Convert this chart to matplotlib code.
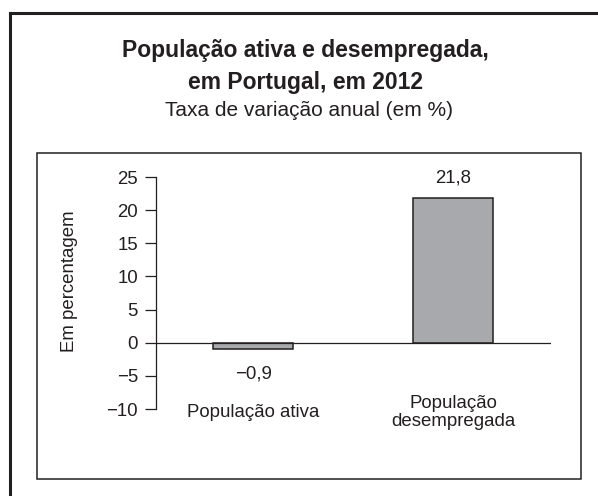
import matplotlib
matplotlib.use("Agg")
import matplotlib.pyplot as plt
from matplotlib.lines import Line2D
from matplotlib.patches import Rectangle

plt.rcParams['font.family'] = ['Liberation Sans', 'DejaVu Sans']

categories = ["População ativa", "População\ndesempregada"]
values = [-0.9, 21.8]
value_labels = ["−0,9", "21,8"]
yticks = [-10, -5, 0, 5, 10, 15, 20, 25]
ytick_labels = ["−10", "−5", "0", "5", "10", "15", "20", "25"]

dark = "#231f20"
bar_gray = "#a7a9ac"

fig = plt.figure(figsize=(5.98, 4.96), dpi=100)

# cadre exterior (só topo e esquerda visíveis)
fig.add_artist(Line2D([10/598, 10/598], [0, 1 - 13/496], color=dark, lw=2.2))
fig.add_artist(Line2D([10/598, 1], [1 - 13/496, 1 - 13/496], color=dark, lw=2.2))

# caixa interior
fig.add_artist(Rectangle((37/598, 1 - 479/496), (581 - 37)/598, (479 - 153)/496,
                         fill=False, edgecolor=dark, lw=1.1))

fig.text(0.511, 1 - 50/496, "População ativa e desempregada,", ha='center', va='center',
         fontsize=16.5, fontweight='bold', color=dark)
fig.text(0.511, 1 - 82/496, "em Portugal, em 2012", ha='center', va='center',
         fontsize=16.5, fontweight='bold', color=dark)
fig.text(0.516, 1 - 110/496, "Taxa de variação anual (em %)", ha='center', va='center',
         fontsize=15, color=dark)

ax = fig.add_axes([156/598, 1 - 409/496, (551 - 156)/598, (409 - 177)/496])
x = range(len(categories))
ax.bar(x, values, width=0.4, color=bar_gray, edgecolor=dark, linewidth=1.1, zorder=2)
ax.axhline(0, color=dark, lw=0.9, zorder=3)

ax.set_xlim(-0.485, 1.49)
ax.set_ylim(-10, 25)
ax.set_yticks(yticks)
ax.set_yticklabels(ytick_labels)
ax.set_xticks([])
for s in ['top', 'right', 'bottom']:
    ax.spines[s].set_visible(False)
ax.spines['left'].set_color(dark)
ax.spines['left'].set_linewidth(0.9)
ax.tick_params(axis='y', length=8, width=0.9, pad=5, colors=dark, labelsize=13.4)

for i, (v, lab) in enumerate(zip(values, value_labels)):
    off = 14.5 if v > 0 else -18
    ax.annotate(lab, (i, v), xytext=(0, off), textcoords='offset points',
                ha='center', va='center', fontsize=13.4, color=dark)

for i, c in enumerate(categories):
    ax.text(i, -10.5, c, ha='center', va='center', fontsize=13.4, color=dark,
            linespacing=1.1, clip_on=False)

fig.text(70/598, 1 - 281/496, "Em percentagem", rotation=90, ha='center', va='center',
         fontsize=13.4, color=dark)

fig.savefig("out.png", dpi=100)
